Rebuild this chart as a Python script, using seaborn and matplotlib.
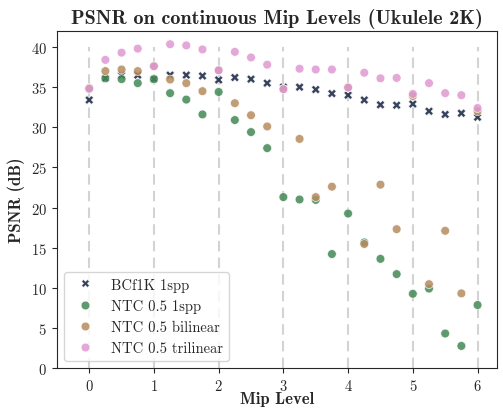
import numpy as np
import pandas as pd
import matplotlib
matplotlib.use('Agg')
import matplotlib.pyplot as plt
import seaborn as sns

# --- data ---
mip_levels = [0, 0.25, 0.5, 0.75, 1, 1.25, 1.5, 1.75, 2, 2.25, 2.5, 2.75,
              3, 3.25, 3.5, 3.75, 4, 4.25, 4.5, 4.75, 5, 5.25, 5.5, 5.75, 6]

bcf_1spp = [33.4, 36.1, 36.5, 36.5, 36.0, 36.5, 36.5, 36.4, 35.9, 36.2, 36.0, 35.5,
            35.0, 35.0, 34.7, 34.2, 34.0, 33.4, 32.8, 32.75, 32.9, 32.0, 31.6, 31.75, 31.25]
ntc_1spp = [34.8, 36.1, 36.0, 35.5, 36.0, 34.25, 33.45, 31.6, 34.4, 30.9, 29.4, 27.4,
            21.3, 21.0, 20.95, 14.2, 19.25, 15.65, 13.6, 11.7, 9.25, 9.9, 4.3, 2.75, 7.85]
ntc_bilinear = [34.9, 37.0, 37.2, 37.0, 37.65, 35.95, 35.5, 34.5, 37.1, 33.0, 31.5, 30.1,
                34.75, 28.55, 21.3, 22.6, 34.95, 15.45, 22.85, 17.3, 33.9, 10.45, 17.1, 9.3, 32.0]
ntc_trilinear = [34.8, 38.4, 39.3, 39.8, 37.6, 40.35, 40.2, 39.7, 37.1, 39.4, 38.7, 37.8,
                 34.75, 37.3, 37.2, 37.2, 34.95, 36.8, 36.1, 36.15, 34.15, 35.5, 34.25, 34.0, 32.4]

methods = ['BCf1K 1spp', 'NTC 0.5 1spp', 'NTC 0.5 bilinear', 'NTC 0.5 trilinear']
series = [bcf_1spp, ntc_1spp, ntc_bilinear, ntc_trilinear]

df = pd.concat([pd.DataFrame({'Mip Level': mip_levels, 'PSNR (dB)': vals, 'Method': name})
                for name, vals in zip(methods, series)], ignore_index=True)

palette = ['#14213f', '#438955', '#b68c5f', '#de99d1']

# --- plot ---
sns.set_style('ticks')
plt.rcParams['font.family'] = ['cmr10', 'DejaVu Serif']
plt.rcParams['axes.formatter.use_mathtext'] = True

fig, ax = plt.subplots(figsize=(5.03, 4.10), dpi=100)

ax.vlines(range(7), 0, 40, colors='lightgray', linestyles=(0, (5, 3)), linewidth=1.5, zorder=0)

sns.scatterplot(data=df, x='Mip Level', y='PSNR (dB)', hue='Method', style='Method',
                markers=['X', 'o', 'o', 'o'], palette=palette, s=40, alpha=0.85, ax=ax)

ax.set_xlim(-0.5, 6.3)
ax.set_ylim(0, 42)
ax.set_xticks(range(7))
ax.set_yticks(range(0, 41, 5))
ax.tick_params(labelsize=10.5)

ax.set_title('PSNR on continuous Mip Levels (Ukulele 2K)', family='cmb10', fontsize=14.5)
ax.set_xlabel('Mip Level', family='cmb10', fontsize=12, labelpad=-1)
ax.set_ylabel('PSNR (dB)', family='cmb10', fontsize=12)

ax.legend(loc='lower left', fontsize=10.5, title=None)

fig.subplots_adjust(left=0.113, right=0.988, top=0.922, bottom=0.1)
plt.savefig('out.png', dpi=100)
